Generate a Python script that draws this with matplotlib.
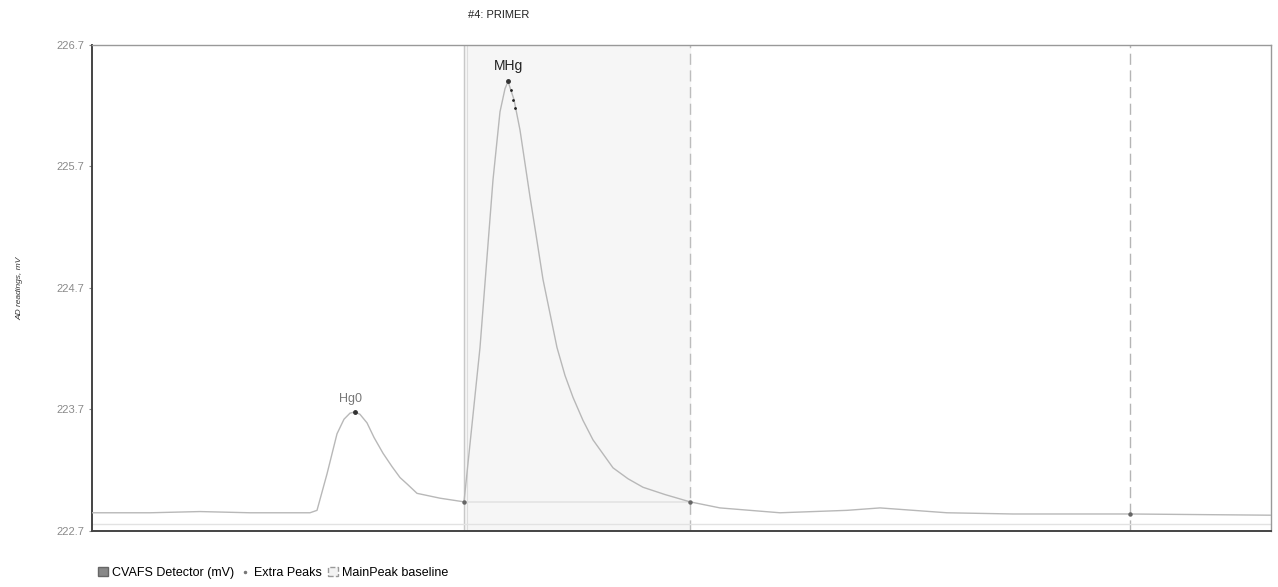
import matplotlib.pyplot as plt
from matplotlib.patches import Patch
from matplotlib.lines import Line2D

plt.rcParams['font.family'] = ['Liberation Sans', 'DejaVu Sans']

# detector trace (time in s, reading in mV)
t = [0, 29, 54, 79, 104, 109, 112.5, 117.5, 122.5, 126, 129, 131.5, 134,
     137.5, 141, 145.5, 150, 154, 158, 162.5, 174, 186, 194, 200.5, 204,
     206.5, 208, 211, 214, 219, 222, 225.5, 232.5, 236.5, 240.5, 245.5,
     250.5, 260.5, 268, 275.5, 286.5, 299, 314, 344, 377.5, 394, 427.5,
     460.5, 519, 589.5]
mv = [222.85, 222.85, 222.86, 222.85, 222.85, 222.85, 222.87, 223.17, 223.50,
      223.62, 223.67, 223.68, 223.66, 223.59, 223.47, 223.34, 223.23, 223.14,
      223.08, 223.01, 222.97, 222.94, 224.21, 225.59, 226.15, 226.34, 226.40,
      226.25, 226.00, 225.45, 225.14, 224.77, 224.21, 223.98, 223.80, 223.61,
      223.45, 223.22, 223.13, 223.06, 223.00, 222.94, 222.89, 222.85, 222.87,
      222.89, 222.85, 222.84, 222.84, 222.83]

peak_names = ["Hg0", "MHg"]
peak_t = [131.5, 208]
peak_mv = [223.68, 226.40]

# main peak integration window and baseline
main_start, main_end = 186, 299
base_mv = [222.94, 222.94]
end_marker_t = 519
end_marker_mv = 222.84

extra_t = [209.5, 210.5, 211.5]
extra_mv = [226.33, 226.25, 226.18]

yticks = [222.7, 223.7, 224.7, 225.7, 226.7]

fig = plt.figure(figsize=(12.78, 5.87), dpi=100)
ax = fig.add_axes([0.072, 0.0954, 0.9225, 0.828])

ax.axvspan(main_start, main_end, color="#f6f6f6", zorder=0)
ax.axvline(main_start, color="#c8c8c8", lw=1.0, zorder=1)
ax.axvline(main_start + 1.5, color="#dddddd", lw=0.8, zorder=1)
ax.axvline(main_end, color="#bdbdbd", lw=1.0, ls=(0, (8, 4)), zorder=1)
ax.axvline(end_marker_t, color="#b5b5b5", lw=1.0, ls=(0, (8, 4)), zorder=1)
ax.axhline(222.76, color="#e2e2e2", lw=1.0, zorder=1)

ax.plot([main_start, main_end], base_mv, color="#e3e3e3", lw=1.2, zorder=2)
ax.plot(t, mv, color="#b8b8b8", lw=1.0, zorder=3)

ax.plot(peak_t, peak_mv, "o", color="#333333", ms=2.5, zorder=4)
ax.plot([main_start, main_end, end_marker_t],
        [base_mv[0], base_mv[1], end_marker_mv], "o", color="#666666",
        ms=2.2, zorder=4)
ax.plot(extra_t, extra_mv, ".", color="#222222", ms=2, zorder=4)

ax.annotate(peak_names[0], (peak_t[0], peak_mv[0]), xytext=(-3, 7),
            textcoords="offset points", ha="center", fontsize=9,
            color="#777777")
ax.annotate(peak_names[1], (peak_t[1], peak_mv[1]), xytext=(0, 8),
            textcoords="offset points", ha="center", fontsize=10,
            color="#222222")

ax.set_xlim(0, 589.5)
ax.set_ylim(222.7, 226.7)
ax.set_yticks(yticks)
ax.set_yticklabels([f"{v:.1f}" for v in yticks])
ax.set_xticks([])
ax.tick_params(axis="y", labelsize=8, labelcolor="#8a8a8a", length=2,
               color="#888888")
for s in ["left", "bottom"]:
    ax.spines[s].set_color("#444444")
    ax.spines[s].set_linewidth(1.4)
for s in ["top", "right"]:
    ax.spines[s].set_color("#999999")
    ax.spines[s].set_linewidth(1.0)

ax.set_ylabel("AD readings, mV", fontsize=6, style="italic", color="#333333",
              labelpad=24)
fig.text(0.39, 0.975, "#4: PRIMER", fontsize=8, color="#222222",
         ha="center", va="center")

handles = [
    Patch(facecolor="#888888", edgecolor="#666666"),
    Line2D([], [], marker=".", ls="none", color="#777777", ms=3),
    Patch(facecolor="#f3f3f3", edgecolor="#999999", ls="--"),
]
labels = ["CVAFS Detector (mV)", "Extra Peaks", "MainPeak baseline"]
fig.legend(handles, labels, loc="center left", bbox_to_anchor=(0.068, 0.024),
           ncol=3, frameon=False, fontsize=9, handlelength=0.8,
           handletextpad=0.3, columnspacing=0.5)

fig.savefig("out.png", dpi=100)
